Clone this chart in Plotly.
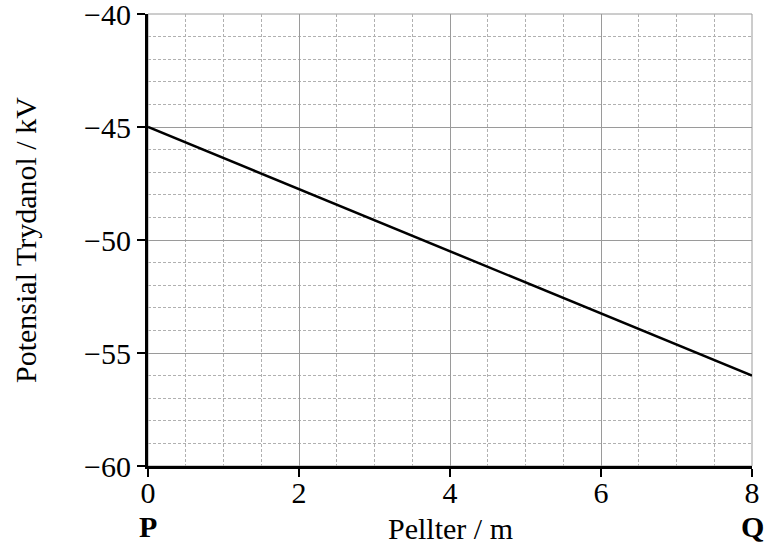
import plotly.graph_objects as go

distance_m = [0, 8]
potential_kV = [-45, -56]
x_ticks = [0, 2, 4, 6, 8]
y_ticks = [-60, -55, -50, -45, -40]

FONT = "Liberation Serif, Times New Roman, serif"
TICK = dict(family=FONT, size=30, color="black")
TITLE = dict(family=FONT, size=30, color="black")

fig = go.Figure()
fig.add_trace(go.Scatter(x=distance_m, y=potential_kV, mode="lines",
                         line=dict(color="black", width=2.5), showlegend=False))

common = dict(ticks="outside", ticklen=8, tickwidth=2, tickcolor="black",
              showline=True, linecolor="black", linewidth=3,
              showgrid=True, gridcolor="#9a9a9a", gridwidth=1, zeroline=False,
              tickfont=TICK, automargin=False, ticklabeloverflow="allow")

fig.update_xaxes(range=[0, 8], tickvals=x_ticks, ticklabelstandoff=-10,
                 minor=dict(dtick=0.5, showgrid=True, gridcolor="#b0b0b0", gridwidth=1,
                            griddash="3px,2px", ticks=""), **common)
fig.update_yaxes(range=[-60, -40], tickvals=y_ticks,
                 minor=dict(dtick=1, showgrid=True, gridcolor="#b0b0b0", gridwidth=1,
                            griddash="3px,2px", ticks=""), **common)

# light frame on top/right edges of the plot area
fig.add_shape(type="rect", xref="paper", yref="paper", x0=0, x1=1, y0=0, y1=1,
              line=dict(color="#9a9a9a", width=1), layer="below")

# axis titles and end labels
fig.add_annotation(x=0, y=0.5, xref="paper", yref="paper", xshift=-123,
                   text="Potensial Trydanol / kV", textangle=-90, showarrow=False,
                   xanchor="center", yanchor="middle", font=TITLE)
fig.add_annotation(x=0.5, y=0, xref="paper", yref="paper", yshift=-62,
                   text="Pellter / m", showarrow=False,
                   xanchor="center", yanchor="middle", font=TITLE)
fig.add_annotation(x=distance_m[0], y=0, xref="x", yref="paper", yshift=-60, text="<b>P</b>",
                   showarrow=False, xanchor="center", yanchor="middle",
                   font=dict(family=FONT, size=30, color="black"))
fig.add_annotation(x=distance_m[-1], y=0, xref="x", yref="paper", yshift=-60, text="<b>Q</b>",
                   showarrow=False, xanchor="center", yanchor="middle",
                   font=dict(family=FONT, size=30, color="black"))

fig.update_layout(width=766, height=544, margin=dict(l=148, r=14, t=14, b=78),
                  plot_bgcolor="white", paper_bgcolor="white")
fig.write_html("out.html", config={"displayModeBar": False},
               post_script="document.body.style.margin='0px';")
